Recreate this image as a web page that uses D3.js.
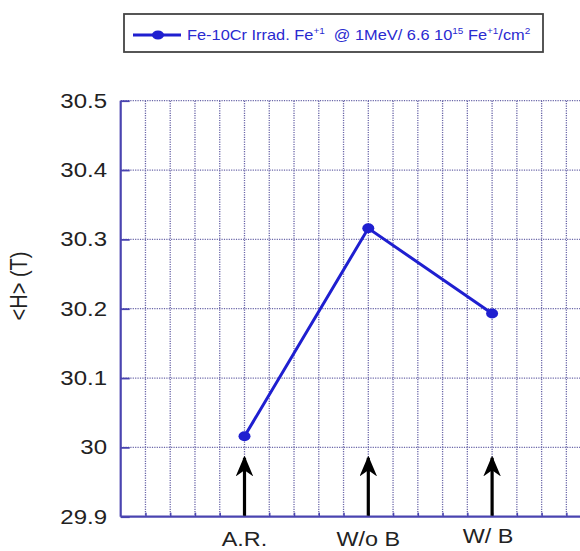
<!DOCTYPE html>
<html><head><meta charset="utf-8">
<script src="https://cdn.jsdelivr.net/npm/d3@7"></script>
<style>body{margin:0;background:#fff}svg{display:block}text{font-family:"Liberation Sans",Arial,sans-serif}</style>
</head><body><svg id="c" width="580" height="551"></svg>
<script>
const categories = ["A.R.", "W/o B", "W/ B"];
const categoryPos = [1, 2, 3];
const values = [30.016, 30.316, 30.193];
const yTicks = [29.9, 30, 30.1, 30.2, 30.3, 30.4, 30.5];
const yTickLabels = ["29.9", "30", "30.1", "30.2", "30.3", "30.4", "30.5"];
const arrowRange = [29.9, 29.985];
const legendLabel = "Fe-10Cr Irrad. Fe";

const svg = d3.select("#c");
const W = 580, H = 551;
const x = d3.scaleLinear().domain([0, 4]).range([120.7, 615.9]);
const y = d3.scaleLinear().domain([29.9, 30.5]).range([516.7, 100.7]);
const stretch = 1.17;
const axisCol = "#4a44b0", gridCol = "#6a66a8", lineCol = "#1f1fd0";

// grid
const g = svg.append("g");
const xGrid = d3.range(1, 21).map(i => i * 0.2);
g.selectAll("line.vg").data(xGrid).join("line")
  .attr("x1", d => x(d)).attr("x2", d => x(d))
  .attr("y1", y(30.5)).attr("y2", y(29.9))
  .attr("stroke", gridCol).attr("stroke-width", 1.3).attr("stroke-dasharray", "1.2,1.2");
g.selectAll("line.hg").data(yTicks.slice(1)).join("line")
  .attr("x1", x(0)).attr("x2", W)
  .attr("y1", d => y(d)).attr("y2", d => y(d))
  .attr("stroke", gridCol).attr("stroke-width", 1.3).attr("stroke-dasharray", "1.2,1.2");

// axes
const yAxis = d3.axisRight(y).tickValues(yTicks).tickSize(9).tickFormat("");
const ya = svg.append("g").attr("transform", `translate(${x(0)},0)`).call(yAxis);
ya.select(".domain").attr("stroke", axisCol).attr("stroke-width", 2.2).attr("d", `M0,${y(30.5)}V${y(29.9)}`);
ya.selectAll(".tick line").attr("stroke", axisCol).attr("stroke-width", 1.8);
const xAxis = d3.axisTop(x).tickValues(xGrid).tickSize(4).tickFormat("");
const xa = svg.append("g").attr("transform", `translate(0,${y(29.9)})`).call(xAxis);
xa.select(".domain").attr("stroke", axisCol).attr("stroke-width", 2.2).attr("d", `M${x(0)},0H${W}`);
xa.selectAll(".tick line").attr("stroke", axisCol).attr("stroke-width", 1.5);

// y tick labels
svg.selectAll("text.yl").data(yTicks).join("text")
  .attr("text-anchor", "end")
  .attr("transform", d => `translate(107,${y(d) + 7}) scale(${stretch},1)`)
  .attr("font-size", 20.5).attr("fill", "#222")
  .text((d, i) => yTickLabels[i]);

// x category labels
svg.selectAll("text.xl").data(categories).join("text")
  .attr("text-anchor", "middle")
  .attr("transform", (d, i) => `translate(${x(categoryPos[i]) - (i === 2 ? 4 : 0)},${i === 2 ? 543 : 546}) scale(${stretch},1)`)
  .attr("font-size", 20).attr("fill", "#222")
  .text(d => d);

// y title
svg.append("text")
  .attr("transform", `translate(27,286) rotate(-90) scale(1,${stretch})`)
  .attr("text-anchor", "middle").attr("font-size", 20).attr("fill", "#222")
  .text("<H> (T)");

// arrows
const defs = svg.append("defs");
defs.append("marker").attr("id", "ah").attr("viewBox", "0 0 10 10")
  .attr("refX", 9).attr("refY", 5).attr("markerWidth", 6.5).attr("markerHeight", 5.5)
  .attr("markerUnits", "strokeWidth").attr("orient", "auto").attr("preserveAspectRatio", "none")
  .append("path").attr("d", "M0,0L10,5L0,10L3,5Z").attr("fill", "#000");
svg.selectAll("line.arr").data(categoryPos).join("line")
  .attr("x1", d => x(d)).attr("x2", d => x(d))
  .attr("y1", y(arrowRange[0]) - 1).attr("y2", y(arrowRange[1]))
  .attr("stroke", "#000").attr("stroke-width", 3.2).attr("marker-end", "url(#ah)");

// data line
const pts = values.map((v, i) => [x(categoryPos[i]), y(v)]);
svg.append("path").attr("d", d3.line()(pts)).attr("fill", "none")
  .attr("stroke", lineCol).attr("stroke-width", 3);
svg.selectAll("ellipse.pt").data(pts).join("ellipse")
  .attr("cx", d => d[0]).attr("cy", d => d[1]).attr("rx", 6).attr("ry", 5)
  .attr("fill", lineCol);

// legend
const lg = svg.append("g");
lg.append("rect").attr("x", 124).attr("y", 14).attr("width", 419).attr("height", 38)
  .attr("fill", "#fff").attr("stroke", "#444").attr("stroke-width", 1.8);
lg.append("line").attr("x1", 133).attr("x2", 181).attr("y1", 35).attr("y2", 35)
  .attr("stroke", lineCol).attr("stroke-width", 3);
lg.append("ellipse").attr("cx", 158).attr("cy", 35).attr("rx", 6).attr("ry", 4.5).attr("fill", lineCol);
const lt = lg.append("text").attr("transform", `translate(187,40) scale(${stretch},1)`)
  .attr("font-size", 14).attr("fill", "#2a2ad0");
lt.append("tspan").text(legendLabel);
lt.append("tspan").attr("font-size", 8.5).attr("dy", -6).text("+1");
lt.append("tspan").attr("dy", 6).text("\u00a0 @ 1MeV/ 6.6 10");
lt.append("tspan").attr("font-size", 8.5).attr("dy", -6).text("15");
lt.append("tspan").attr("dy", 6).text(" Fe");
lt.append("tspan").attr("font-size", 8.5).attr("dy", -6).text("+1");
lt.append("tspan").attr("dy", 6).text("/cm");
lt.append("tspan").attr("font-size", 8.5).attr("dy", -6).text("2");
</script></body></html>
